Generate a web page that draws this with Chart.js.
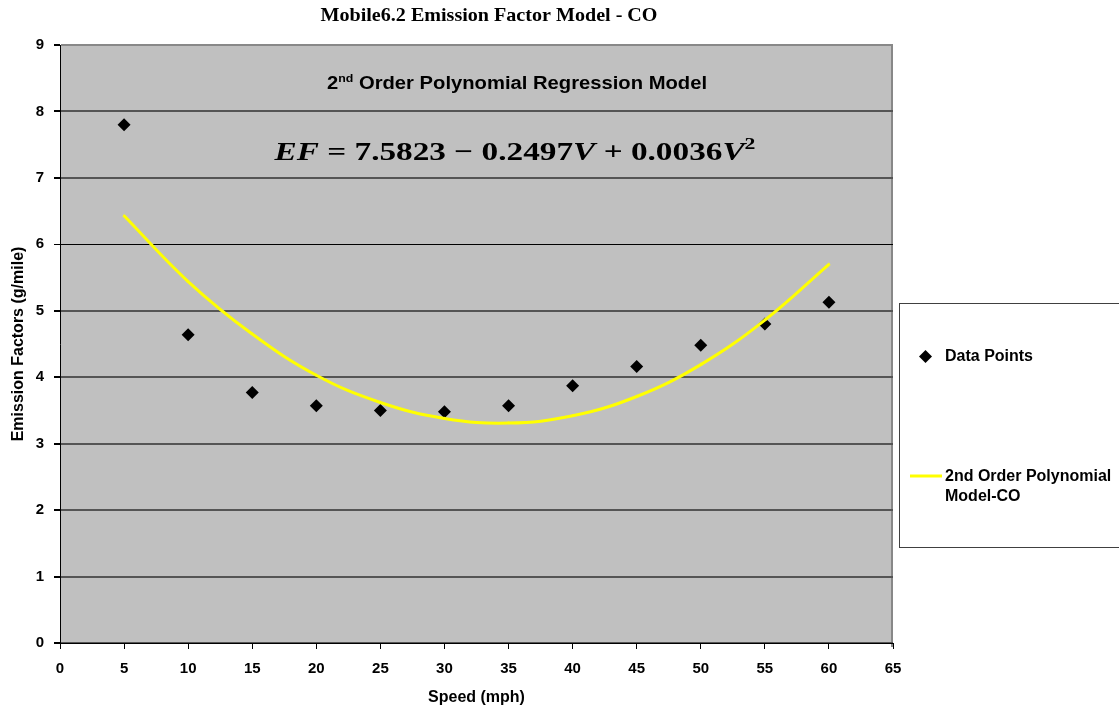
<!DOCTYPE html>
<html>
<head>
<meta charset="utf-8">
<title>Mobile6.2 Emission Factor Model - CO</title>
<script src="https://cdn.jsdelivr.net/npm/chart.js@4.4.1/dist/chart.umd.min.js"></script>
<style>
  html, body { margin: 0; padding: 0; background: #fff; }
  #wrap { width: 1119px; height: 707px; position: relative; }
</style>
</head>
<body>
<div id="wrap"><canvas id="emissionChart" width="1119" height="707"></canvas></div>
<script>
/* ---------- DATA ---------- */
const speeds = [5, 10, 15, 20, 25, 30, 35, 40, 45, 50, 55, 60];
const emissionPoints = [7.80, 4.64, 3.77, 3.57, 3.50, 3.48, 3.57, 3.87, 4.16, 4.48, 4.80, 5.13];
const modelCurve = [6.43, 5.44, 4.65, 4.03, 3.62, 3.38, 3.31, 3.42, 3.71, 4.19, 4.86, 5.70];
const xTicks = [0, 5, 10, 15, 20, 25, 30, 35, 40, 45, 50, 55, 60, 65];
const yTicks = [0, 1, 2, 3, 4, 5, 6, 7, 8, 9];

const chartTitle = "Mobile6.2 Emission Factor Model - CO";
const seriesNames = ["Data Points", "2nd Order Polynomial", "Model-CO"];

const SANS = "'Liberation Sans', Arial, sans-serif";
const SERIF = "'Liberation Serif', 'Times New Roman', serif";

Chart.defaults.font.family = SANS;
Chart.defaults.color = "#000";

const canvas = document.getElementById("emissionChart");

/* ---------- PLOT BACKGROUND ---------- */
const plotBackground = {
  id: "plotBackground",
  beforeDraw(chart) {
    const { ctx, chartArea: a } = chart;
    ctx.save();
    ctx.fillStyle = "#c0c0c0";
    ctx.fillRect(a.left, a.top, a.right - a.left, a.bottom - a.top);
    ctx.strokeStyle = "#888";
    ctx.lineWidth = 2;
    ctx.beginPath();
    ctx.moveTo(a.right - 1, a.top);
    ctx.lineTo(a.right - 1, a.bottom + 4);
    ctx.stroke();
    ctx.restore();
  }
};

/* ---------- TEXT ON TOP: title, model name, equation, legend ---------- */
function drawPieces(ctx, pieces, cx, baseline, targetWidth) {
  let total = 0;
  pieces.forEach(p => {
    ctx.font = p.font;
    p.w = ctx.measureText(p.text).width;
    total += p.w;
  });
  const sx = targetWidth ? targetWidth / total : 1;
  ctx.save();
  ctx.translate(cx - (total * sx) / 2, baseline);
  ctx.scale(sx, 1);
  let x = 0;
  pieces.forEach(p => {
    ctx.font = p.font;
    ctx.fillText(p.text, x, p.dy || 0);
    x += p.w;
  });
  ctx.restore();
}

const overlayText = {
  id: "overlayText",
  afterDraw(chart) {
    const { ctx } = chart;
    ctx.save();
    ctx.fillStyle = "#000";
    ctx.textBaseline = "alphabetic";
    ctx.textAlign = "left";

    // chart title
    drawPieces(ctx, [{ text: chartTitle, font: `bold 19px ${SERIF}` }], 489, 21, 337);

    // model name with superscript
    drawPieces(ctx, [
      { text: "2", font: `bold 18px ${SANS}` },
      { text: "nd", font: `bold 11px ${SANS}`, dy: -7 },
      { text: " Order Polynomial Regression Model", font: `bold 18px ${SANS}` }
    ], 517, 89, 380);

    // regression equation
    drawPieces(ctx, [
      { text: "EF", font: `italic bold 26px ${SERIF}` },
      { text: " = 7.5823 \u2212 0.2497", font: `bold 26px ${SERIF}` },
      { text: "V", font: `italic bold 26px ${SERIF}` },
      { text: " + 0.0036", font: `bold 26px ${SERIF}` },
      { text: "V", font: `italic bold 26px ${SERIF}` },
      { text: "2", font: `bold 17px ${SERIF}`, dy: -11 }
    ], 515, 160, 481);

    // legend box
    ctx.strokeStyle = "#404040";
    ctx.lineWidth = 1;
    ctx.strokeRect(899.5, 303.5, 240, 244);

    // legend: data points
    ctx.fillStyle = "#000";
    ctx.beginPath();
    ctx.moveTo(925.5, 350);
    ctx.lineTo(932, 356.5);
    ctx.lineTo(925.5, 363);
    ctx.lineTo(919, 356.5);
    ctx.closePath();
    ctx.fill();
    ctx.font = `bold 16px ${SANS}`;
    ctx.textBaseline = "middle";
    ctx.fillText(seriesNames[0], 945, 357);

    // legend: model curve
    ctx.strokeStyle = "#ffff00";
    ctx.lineWidth = 3;
    ctx.beginPath();
    ctx.moveTo(910, 476);
    ctx.lineTo(942, 476);
    ctx.stroke();
    ctx.fillStyle = "#000";
    ctx.fillText(seriesNames[1], 945, 477);
    ctx.fillText(seriesNames[2], 945, 497);
    ctx.restore();
  }
};

/* ---------- CHART ---------- */
const chart = new Chart(canvas, {
  type: "scatter",
  data: {
    datasets: [
      {
        label: seriesNames[1] + " " + seriesNames[2],
        data: speeds.map((s, i) => ({ x: s, y: modelCurve[i] })),
        showLine: true,
        tension: 0.4,
        borderColor: "#ffff00",
        backgroundColor: "#ffff00",
        borderWidth: 3,
        pointStyle: "triangle",
        pointRadius: 2,
        pointBorderWidth: 0,
        order: 0
      },
      {
        label: seriesNames[0],
        data: speeds.map((s, i) => ({ x: s, y: emissionPoints[i] })),
        showLine: false,
        pointStyle: "rectRot",
        pointRadius: 6.5,
        pointBorderWidth: 0,
        backgroundColor: "#000",
        borderColor: "#000",
        order: 1
      }
    ]
  },
  plugins: [plotBackground, overlayText],
  options: {
    responsive: false,
    animation: false,
    layout: { padding: { left: 0, right: 226, top: 45, bottom: 0 } },
    plugins: {
      legend: { display: false },
      tooltip: { enabled: false },
      title: { display: false }
    },
    scales: {
      x: {
        type: "linear",
        min: xTicks[0],
        max: xTicks[xTicks.length - 1],
        afterBuildTicks: s => { s.ticks = xTicks.map(v => ({ value: v })); },
        afterFit: s => { s.height = 64; },
        border: { color: "#000", width: 1 },
        grid: { drawOnChartArea: false, tickLength: 6, tickColor: "#000" },
        ticks: { padding: 11, font: { size: 15, weight: "bold" }, color: "#000" },
        title: {
          display: true,
          text: "Speed (mph)",
          font: { size: 16, weight: "bold" },
          color: "#000",
          padding: { top: 0, bottom: 0 }
        }
      },
      y: {
        type: "linear",
        min: yTicks[0],
        max: yTicks[yTicks.length - 1],
        afterBuildTicks: s => { s.ticks = yTicks.map(v => ({ value: v })); },
        afterFit: s => { s.width = 60; },
        border: { color: "#000", width: 1 },
        grid: {
          tickLength: 6,
          tickColor: "#000",
          color: c => {
            const v = c.tick && c.tick.value;
            if (v === 6) return "#000";
            if (v === 9) return "#888";
            return "#555";
          },
          lineWidth: c => (c.tick && c.tick.value === 6 ? 1 : 2)
        },
        ticks: { padding: 10, font: { size: 15, weight: "bold" }, color: "#000" },
        title: {
          display: true,
          text: "Emission Factors (g/mile)",
          font: { size: 16, weight: "bold" },
          color: "#000",
          padding: { top: 9, bottom: 0 }
        }
      }
    }
  }
});
</script>
</body>
</html>
